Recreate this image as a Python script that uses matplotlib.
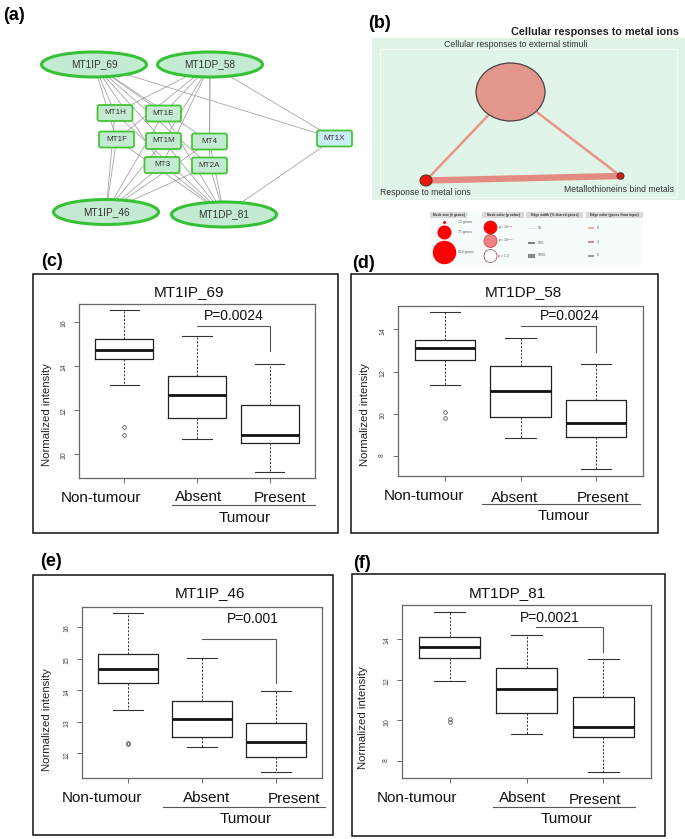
import matplotlib
matplotlib.use("Agg")
import matplotlib.pyplot as plt
from matplotlib.patches import Ellipse, FancyBboxPatch, Rectangle

plt.rcParams['font.family'] = ['Liberation Sans', 'DejaVu Sans']

# ---- data: expression boxplots (c)-(f) ----
groups = ['Non-tumour', 'Absent', 'Present']
probes = ['MT1IP_69', 'MT1DP_58', 'MT1IP_46', 'MT1DP_81']
p_labels = ['P=0.0024', 'P=0.0024', 'P=0.001', 'P=0.0021']

upper_whisker = [[16.55, 15.38, 14.10], [14.81, 13.60, 12.34], [16.44, 15.03, 13.99], [15.34, 14.20, 13.02]]
upper_quartile = [[15.23, 13.56, 12.24], [13.49, 12.27, 10.64], [15.15, 13.67, 12.95], [14.08, 12.59, 11.16]]
medians = [[14.73, 12.68, 10.86], [13.13, 11.07, 9.54], [14.67, 13.08, 12.36], [13.62, 11.54, 9.69]]
lower_quartile = [[14.30, 11.62, 10.49], [12.54, 9.85, 8.90], [14.22, 12.53, 11.87], [13.08, 10.34, 9.16]]
lower_whisker = [[13.14, 10.68, 9.17], [11.36, 8.83, 7.35], [13.37, 12.21, 11.42], [11.95, 9.33, 7.44]]
outliers_nontumour = [[11.23, 10.86], [10.06, 9.78], [12.34, 12.29], [10.07, 9.90]]
bracket_top = [15.80, 14.16, 15.63, 14.57]
bracket_drop = [14.70, 12.94, 14.24, 13.38]
y_ticks = [[10, 12, 14, 16], [8, 10, 12, 14], [12, 13, 14, 15, 16], [8, 10, 12, 14]]

# ---- data: network (a) ----
probe_nodes = ['MT1IP_69', 'MT1DP_58', 'MT1IP_46', 'MT1DP_81']
gene_nodes = ['MT1H', 'MT1E', 'MT1F', 'MT1M', 'MT4', 'MT3', 'MT2A', 'MT1X']
links = {
    'MT1IP_69': ['MT1H', 'MT1E', 'MT1F', 'MT1M', 'MT4', 'MT3', 'MT2A', 'MT1X'],
    'MT1DP_58': ['MT1H', 'MT1E', 'MT1F', 'MT1M', 'MT4', 'MT3', 'MT2A', 'MT1X'],
    'MT1IP_46': ['MT1H', 'MT1E', 'MT1F', 'MT1M', 'MT4', 'MT3', 'MT2A'],
    'MT1DP_81': ['MT1H', 'MT1E', 'MT1F', 'MT1M', 'MT4', 'MT3', 'MT2A', 'MT1X'],
}

# ---- data: pathway map (b) ----
pathway_title = 'Cellular responses to metal ions'
pathways = ['Cellular responses to external stimuli', 'Response to metal ions', 'Metallothioneins bind metals']
size_legend = ['12 genes', '75 genes', '414 genes']
color_legend = ['p = 10$^{-27}$', 'p = 10$^{-13}$', 'p = 1.0']
width_legend = ['1%', '50%', '100%']
edge_color_legend = ['8', '4', '0']

# ---- layout (pixels, top-left origin) ----
W, H = 685, 839
fig = plt.figure(figsize=(W / 100, H / 100), dpi=100)


def px_axes(x0, y0, x1, y1):
    return fig.add_axes([x0 / W, 1 - y1 / H, (x1 - x0) / W, (y1 - y0) / H])


node_xy = {
    'MT1IP_69': (94, 64.5), 'MT1DP_58': (210, 64.5), 'MT1IP_46': (106, 212), 'MT1DP_81': (224, 214.5),
    'MT1H': (115, 113), 'MT1E': (163.5, 113.5), 'MT1F': (116.5, 139.5), 'MT1M': (163.5, 141),
    'MT4': (209.5, 141.5), 'MT3': (162, 165), 'MT2A': (209.5, 165.5), 'MT1X': (334.5, 138.5),
}

box_layout = [
    dict(tag='(c)', tag_xy=(52, 262), frame=(33, 274, 338, 533), plot=(79, 304, 315, 478),
         ylim=(8.91, 16.82), title_xy=(189, 296), p_xy=(234, 320), ylab_xy=(47, 415),
         cat_x=(101, 199, 280), cat_y=(502, 501, 502), rule=(172, 315, 505), tum_xy=(245, 522), br_x0=2.0),
    dict(tag='(d)', tag_xy=(364, 264), frame=(351, 274, 658, 533), plot=(398, 306, 643, 476),
         ylim=(7.04, 15.11), title_xy=(523, 296), p_xy=(570, 320), ylab_xy=(365, 415),
         cat_x=(424, 515, 603), cat_y=(500, 502, 502), rule=(482, 640, 504), tum_xy=(564, 520), br_x0=2.0),
    dict(tag='(e)', tag_xy=(51, 561), frame=(33, 575, 333, 835), plot=(82, 607, 322, 778),
         ylim=(11.22, 16.64), title_xy=(210, 597), p_xy=(253, 623), ylab_xy=(47, 720),
         cat_x=(102, 207, 294), cat_y=(802, 802, 803), rule=(163, 325, 807), tum_xy=(246, 823), br_x0=2.0),
    dict(tag='(f)', tag_xy=(362, 564), frame=(352, 574, 665, 836), plot=(402, 605, 651, 778),
         ylim=(7.16, 15.67), title_xy=(507, 597), p_xy=(550, 622), ylab_xy=(363, 718),
         cat_x=(417, 523, 595), cat_y=(802, 802, 804), rule=(493, 635, 807), tum_xy=(567, 823), br_x0=2.12),
]

# ---- boxplots ----
for i, lay in enumerate(box_layout):
    ax = px_axes(*lay['plot'])
    stats = []
    for g in range(3):
        stats.append(dict(med=medians[i][g], q1=lower_quartile[i][g], q3=upper_quartile[i][g],
                          whislo=lower_whisker[i][g], whishi=upper_whisker[i][g],
                          fliers=outliers_nontumour[i] if g == 0 else []))
    ax.bxp(stats, positions=[1, 2, 3], widths=0.8, capwidths=0.4,
           boxprops=dict(color='#222222', lw=0.9),
           medianprops=dict(color='#111111', lw=2.0, solid_capstyle='butt'),
           whiskerprops=dict(color='#333333', lw=0.7, ls=(0, (2.2, 1.6))),
           capprops=dict(color='#333333', lw=0.8),
           flierprops=dict(marker='o', mfc='none', mec='#555555', ms=2.6, mew=0.6))
    ax.plot([lay['br_x0'], 3, 3], [bracket_top[i], bracket_top[i], bracket_drop[i]], color='#555555', lw=0.8)
    ax.set_xlim(0.38, 3.62)
    ax.set_ylim(*lay['ylim'])
    ax.set_xticks([1, 2, 3])
    ax.set_xticklabels([])
    ax.set_yticks(y_ticks[i])
    ax.tick_params(axis='both', length=3.5, width=0.6, color='#555555')
    ax.tick_params(axis='y', labelrotation=90, labelsize=5, labelcolor='#444444', pad=5)
    for s in ax.spines.values():
        s.set_color('#666666')
        s.set_linewidth(0.9)

# ---- overlay for annotations, network and pathway map ----
ov = fig.add_axes([0, 0, 1, 1], zorder=10)
ov.set_xlim(0, W)
ov.set_ylim(H, 0)
ov.axis('off')

for i, lay in enumerate(box_layout):
    x0, y0, x1, y1 = lay['frame']
    ov.add_patch(Rectangle((x0, y0), x1 - x0, y1 - y0, fc='none', ec='#111111', lw=1.1))
    ov.text(*lay['tag_xy'], lay['tag'], fontsize=13, fontweight='bold', ha='center', va='center')
    ov.text(*lay['title_xy'], probes[i], fontsize=11, ha='center', va='baseline', color='#111111')
    ov.text(*lay['p_xy'], p_labels[i], fontsize=10, ha='center', va='baseline', color='#111111')
    ov.text(*lay['ylab_xy'], 'Normalized intensity', fontsize=8.2, rotation=90, ha='center', va='center',
            color='#222222')
    for g in range(3):
        ov.text(lay['cat_x'][g], lay['cat_y'][g], groups[g], fontsize=11, ha='center', va='baseline',
                color='#111111')
    rx0, rx1, ry = lay['rule']
    ov.plot([rx0, rx1], [ry, ry], color='#555555', lw=0.8)
    ov.text(*lay['tum_xy'], 'Tumour', fontsize=11, ha='center', va='baseline', color='#111111')

# (a) network
ov.text(14, 15, '(a)', fontsize=13, fontweight='bold', ha='center', va='center')
narrow = ['Liberation Sans Narrow', 'Liberation Sans', 'DejaVu Sans']
for p, genes in links.items():
    for g in genes:
        (xa, ya), (xb, yb) = node_xy[p], node_xy[g]
        ov.plot([xa, xb], [ya, yb], color='#a6a6a6', lw=0.6, zorder=1)
for p in probe_nodes:
    cx, cy = node_xy[p]
    ov.add_patch(Ellipse((cx, cy), 105, 25, fc='#c4ebd2', ec='#36c136', lw=2.2, zorder=2))
    ov.text(cx, cy, p, fontsize=7.2, family=narrow, ha='center', va='center', color='#333333', zorder=3)
for g in gene_nodes:
    cx, cy = node_xy[g]
    fc = '#c9eef8' if g == 'MT1X' else '#c4ebd2'
    ov.add_patch(FancyBboxPatch((cx - 17.5, cy - 8), 35, 16, boxstyle='round,pad=0,rounding_size=2',
                                fc=fc, ec='#46c437', lw=1.3, zorder=2))
    ov.text(cx, cy, g, fontsize=5.8, family=narrow, ha='center', va='center', color='#333333', zorder=3)

# (b) pathway map
ov.text(380, 23, '(b)', fontsize=13, fontweight='bold', ha='center', va='center')
ov.text(679, 35, pathway_title, fontsize=7.8, fontweight='bold', ha='right', va='baseline', color='#222222')
ov.add_patch(Rectangle((372, 38), 313, 162, fc='#e1f4e8', ec='none', zorder=0))
ov.add_patch(Rectangle((380, 49), 297, 148, fc='none', ec='#f6fcf8', lw=0.8, zorder=0))
big, left, right = (510.5, 92), (426, 180.5), (620.5, 176)
ov.plot([left[0], big[0]], [left[1], big[1]], color='#e8958c', lw=1.8, zorder=1)
ov.plot([right[0], big[0]], [right[1], big[1]], color='#e8958c', lw=1.8, zorder=1)
ov.plot([left[0], right[0]], [left[1], right[1]], color='#e48b81', lw=4.6, solid_capstyle='butt', zorder=1)
ov.add_patch(Ellipse(big, 69, 58, fc='#e3978c', ec='#444444', lw=0.9, zorder=2))
ov.add_patch(Ellipse(left, 12, 11, fc='#e8160f', ec='#553322', lw=0.8, zorder=2))
ov.add_patch(Ellipse(right, 7, 6.5, fc='#dd1a12', ec='#333333', lw=0.7, zorder=2))
ov.text(516, 47, pathways[0], fontsize=6.3, ha='center', va='baseline', color='#333333')
ov.text(425, 195, pathways[1], fontsize=6.2, ha='center', va='baseline', color='#333333')
ov.text(619, 192, pathways[2], fontsize=6.2, ha='center', va='baseline', color='#333333')

# (b) legend
ov.add_patch(Rectangle((430, 211), 213, 54, fc='#f6fbfc', ec='none', zorder=0))
headers = ['Node size (# genes)', 'Node color (p value)', 'Edge width (% shared genes)', 'Edge color (genes from input)']
for (hx0, hx1), txt in zip([(430, 467), (482, 524), (526, 583), (586, 643)], headers):
    ov.add_patch(Rectangle((hx0, 212), hx1 - hx0, 5.5, fc='#d9d9d9', ec='none', zorder=1))
    ov.text((hx0 + hx1) / 2, 214.8, txt, fontsize=2.4, fontweight='bold', ha='center', va='center',
            color='#333333', zorder=2)
for (cy, w), txt in zip([(222.5, 3), (232.5, 14), (252.5, 23.4)], size_legend):
    ov.add_patch(Ellipse((444.5, cy), w, w, fc='#ff0000', ec='none', zorder=2))
    ov.text(458, cy, txt, fontsize=2.4, ha='left', va='center', color='#555555')
for cy, fc, ec, txt in zip([227.5, 241, 256], ['#ff0000', '#f28282', '#ffffff'],
                           ['#cc2222', '#c05050', '#a06060'], color_legend):
    ov.add_patch(Ellipse((490.5, cy), 13, 13, fc=fc, ec=ec, lw=0.6, zorder=2))
    ov.text(498, cy, txt, fontsize=2.4, ha='left', va='center', color='#555555')
for cy, lw, c, txt in zip([228, 242.5, 255.5], [0.5, 1.2, 3.0], ['#dddddd', '#666666', '#888888'], width_legend):
    ov.plot([528, 535], [cy, cy], color=c, lw=lw, solid_capstyle='butt')
    ov.text(538, cy, txt, fontsize=2.4, ha='left', va='center', color='#555555')
for cy, c, txt in zip([228, 242, 255.5], ['#ff9a9a', '#c87575', '#888888'], edge_color_legend):
    ov.plot([588, 594], [cy, cy], color=c, lw=1.2, solid_capstyle='butt')
    ov.text(597, cy, txt, fontsize=2.4, ha='left', va='center', color='#555555')

fig.savefig('out.png', dpi=100, facecolor='white')
